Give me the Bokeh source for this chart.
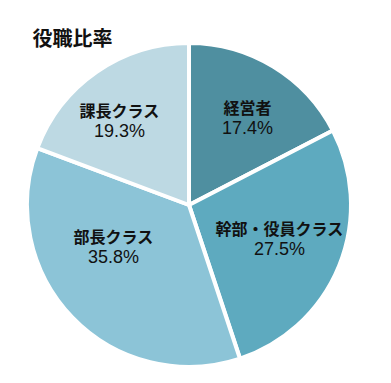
import math
from bokeh.plotting import figure
from bokeh.models import Range1d, ColumnDataSource
from bokeh.core.properties import value
from bokeh.embed import file_html
from bokeh.resources import INLINE

# data
categories = ["経営者", "幹部・役員クラス", "部長クラス", "課長クラス"]
shares = [17.4, 27.5, 35.8, 19.3]
colors = ["#4f8fa0", "#5eaabf", "#8cc4d7", "#bdd9e3"]
title_text = "役職比率"

# layout
W, H = 375, 367
cx, cy, R = 188.5, 162.5, 162
label_pos = [(247, 250.5), (279, 129), (113, 121), (119, 247)]

p = figure(width=W, height=H, output_backend="svg", toolbar_location=None,
           x_range=Range1d(0, W), y_range=Range1d(0, H), min_border=0)
p.axis.visible = False
p.grid.visible = False
p.outline_line_color = None

total = sum(shares)
starts, ends = [], []
a = math.pi / 2
for s in shares:
    starts.append(a)
    a -= s / total * 2 * math.pi
    ends.append(a)

src = ColumnDataSource(dict(start=starts, end=ends, color=colors))
p.wedge(x=cx, y=cy, radius=R, start_angle="start", end_angle="end", direction="clock",
        fill_color="color", line_color="white", line_width=4, source=src)

names = ColumnDataSource(dict(x=[q[0] for q in label_pos], y=[q[1] + 10.5 for q in label_pos], t=categories))
pcts = ColumnDataSource(dict(x=[q[0] for q in label_pos], y=[q[1] - 10.5 for q in label_pos],
                             t=[f"{v:.1f}%" for v in shares]))
p.text(x="x", y="y", text="t", source=names, text_align="center", text_baseline="middle",
       text_font=value("Noto Sans CJK JP"), text_font_style="bold", text_font_size="16px", text_color="#111111")
p.text(x="x", y="y", text="t", source=pcts, text_align="center", text_baseline="middle",
       text_font=value("Liberation Sans"), text_font_size="18px", text_color="#111111")

p.text(x=[32], y=[330], text=[title_text], text_align="left", text_baseline="middle",
       text_font=value("Noto Sans CJK JP"), text_font_style="bold", text_font_size="20px", text_color="#111111")

open("out.html", "w").write(file_html(p, INLINE))
